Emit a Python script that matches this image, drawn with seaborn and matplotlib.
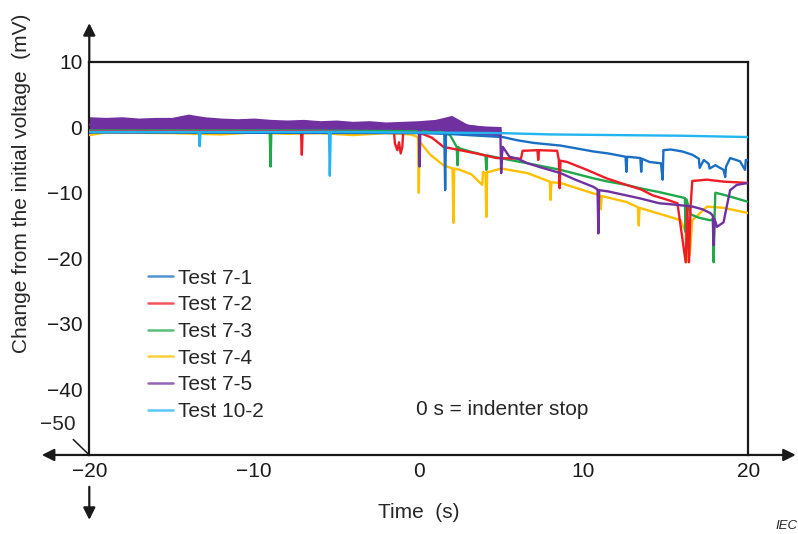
import numpy as np
import pandas as pd
import matplotlib
matplotlib.use("Agg")
import matplotlib.pyplot as plt
from matplotlib.lines import Line2D
import seaborn as sns

# ---- data (time in s, change in mV) ----
t_10_2 = [-20, -15, -13.35, -13.3, -13.25, -10, -5.45, -5.4, -5.35, 0, 5, 8, 12, 16, 20]
v_10_2 = [-0.7, -0.7, -0.7, -2.9, -0.7, -0.7, -0.7, -7.4, -0.7, -0.8, -0.9, -1.1, -1.2, -1.3, -1.5]

t_7_1 = [-20, 0, 1.55, 1.6, 1.65, 3, 5.1, 6, 7, 8.6, 9.5, 10.6, 11.5, 12.55, 12.6, 12.65,
         13.45, 13.5, 13.55, 14, 14.7, 14.8, 14.85, 15.3, 16, 16.6, 17.0, 17.05, 17.3,
         17.6, 17.65, 18, 18.5, 18.6, 18.65, 18.9, 19.5, 19.8, 19.85, 20]
v_7_1 = [-0.8, -0.9, -1.0, -9.6, -1.0, -1.2, -1.5, -2.0, -2.4, -2.8, -3.2, -3.7, -4.0, -4.5, -6.8, -4.5,
         -4.7, -6.8, -4.8, -5.3, -5.5, -8.0, -3.5, -3.4, -3.7, -4.2, -4.8, -6.2, -5.0,
         -5.6, -6.3, -5.8, -6.5, -7.6, -6.0, -4.7, -5.2, -6.5, -5.0, -5.0]

t_7_2 = [-20, -7.15, -7.1, -7.05, -1.5, -1.45, -1.3, -1.2, -1.1, -1.0, -0.95, 0, 0.8, 1.5, 2.5,
         3.5, 4.7, 6.2, 6.3, 7.2, 7.25, 7.3, 8.4, 8.5, 8.55, 8.6, 9.0, 10.2, 11.4, 12.6, 13.5,
         14.2, 15.0, 15.7, 16.2, 16.3, 16.4, 16.5, 16.6, 17.5, 18.5, 20]
v_7_2 = [-0.6, -0.6, -4.2, -0.6, -0.8, -2.5, -3.5, -2.3, -4.0, -3.0, -0.8, -0.8, -1.6, -3.0, -3.5,
         -4.0, -4.7, -4.8, -3.6, -3.5, -5.0, -3.5, -3.6, -5.0, -9.3, -5.1, -5.3, -6.5, -7.8, -8.8, -9.5,
         -10.4, -11.0, -11.6, -20.6, -12.0, -20.6, -12.0, -8.2, -8.0, -8.3, -8.5]

t_7_3 = [-20, -9.05, -9.0, -8.95, 0, 1.0, 1.3, 1.9, 2.3, 2.35, 2.4, 2.45, 3.1, 4.05, 4.1, 4.15,
         4.9, 6.6, 8.6, 10.6, 11.5, 12.6, 13.6, 14.6, 16.15, 16.2, 16.25, 16.5, 17.0, 17.7,
         17.85, 17.9, 17.95, 18.0, 18.5, 19.2, 20]
v_7_3 = [-0.5, -0.5, -6.0, -0.5, -0.6, -0.8, -0.7, -1.2, -3.0, -5.8, -3.0, -3.2, -3.7, -4.3, -6.5, -4.3,
         -4.7, -5.5, -6.5, -7.8, -8.3, -8.8, -9.4, -9.9, -10.8, -16.0, -11.0, -13.3, -13.8, -14.2,
         -14.0, -20.6, -14.0, -10.0, -10.3, -10.8, -11.4]

t_7_4 = [-20, -19, -15, -12, -10, -8, -6, -4, -2, -0.5, -0.05, 0.0, 0.05, 0.7, 1.5,
         2.05, 2.1, 2.15, 2.5, 3.2, 3.85, 3.9, 4.05, 4.1, 4.15, 4.3, 5.0, 6.6, 7.95, 8.0, 8.05,
         8.6, 10.6, 11.0, 11.05, 11.1, 12.6, 13.3, 13.35, 13.4, 14.2, 15.0, 15.9, 16.2, 16.25,
         16.3, 16.45, 16.6, 17.5, 18.5, 20]
v_7_4 = [-1.2, -0.8, -0.9, -1.1, -0.8, -1.0, -0.9, -1.2, -0.9, -1.1, -1.5, -10.0, -2.2, -4.2, -5.8,
         -6.3, -14.6, -6.3, -6.5, -7.2, -8.8, -6.8, -7.0, -13.7, -6.8, -6.8, -6.3, -7.0, -8.3, -11.1, -8.4,
         -8.5, -10.1, -10.4, -12.5, -10.5, -11.4, -12.2, -15.0, -12.3, -12.9, -13.5, -14.2, -16.0, -20.6,
         -16.5, -19.5, -14.2, -12.1, -12.3, -13.1]

t_7_5 = [-20, -14, 0, 0.05, 0.1, 2, 4.95, 5.0, 5.05, 5.1, 5.5, 6.0, 6.6, 7.5, 8.6, 9.5, 10.6, 10.85,
         10.9, 10.95, 11.5, 12.6, 13.5, 14.6, 15.5, 16.6, 17.2, 17.7, 17.85, 17.9, 17.95, 18.1,
         18.5, 18.7, 18.9, 19.3, 20]
v_7_5 = [0.4, 0.6, 0.2, -6.0, 0.2, 0.6, -0.5, -7.0, -4.2, -3.0, -4.5, -4.8, -5.5, -6.2, -7.0, -8.0, -9.1, -9.5,
         -16.2, -9.6, -9.8, -10.4, -10.9, -11.6, -11.8, -12.1, -12.5, -13.1, -13.5, -18.0, -14.0, -15.2,
         -14.5, -12.0, -9.6, -8.8, -8.5]

# noisy purple band before 5 s (upper / lower envelope)
t_band = list(range(-20, 6))
band_hi = [1.6, 1.5, 1.6, 1.4, 1.5, 1.5, 2.0, 1.6, 1.4, 1.3, 1.4, 1.2, 1.1, 1.2, 1.0, 1.1,
           0.9, 1.0, 0.8, 0.9, 1.0, 1.2, 1.8, 0.4, 0.2, 0.1]
band_lo = [-0.9, -0.8, -0.9, -0.8, -0.9, -0.8, -0.8, -0.9, -0.8, -0.9, -0.8, -0.9, -0.8, -0.9, -0.8, -0.9,
           -0.9, -0.8, -0.9, -0.9, -0.9, -0.8, -0.7, -1.1, -1.2, -1.3]

series = {
    "Test 7-1": (t_7_1, v_7_1, "#1a6fc4"),
    "Test 7-2": (t_7_2, v_7_2, "#ee1c25"),
    "Test 7-3": (t_7_3, v_7_3, "#21a84a"),
    "Test 7-4": (t_7_4, v_7_4, "#ffc000"),
    "Test 7-5": (t_7_5, v_7_5, "#7030a0"),
    "Test 10-2": (t_10_2, v_10_2, "#22b5f0"),
}
draw_order = ["Test 7-4", "Test 7-3", "Test 7-2", "Test 7-1", "Test 7-5", "Test 10-2"]

sns.set_style("white")
plt.rcParams["font.family"] = ["Liberation Sans", "DejaVu Sans"]

fig = plt.figure(figsize=(7.98, 5.34), dpi=100)
ax = fig.add_axes([0.1119, 0.148, 0.8258, 0.7365])

ax.fill_between(t_band, band_lo, band_hi, color="#7030a0", lw=0, zorder=2.5)
for name in draw_order:
    t, v, c = series[name]
    df = pd.DataFrame({"t": t, "v": v})
    sns.lineplot(data=df, x="t", y="v", ax=ax, color=c, lw=1.7, estimator=None, sort=False,
                 zorder=3 if name != "Test 10-2" else 4)

ax.set_xlim(-20, 20)
ax.set_ylim(-50, 10)
ax.set_xticks([-20, -10, 0, 10, 20])
ax.set_yticks([-50, -40, -30, -20, -10, 0, 10])
ax.set_yticklabels(["", "\u221240", "\u221230", "\u221220", "\u221210", "0", "10"])
ax.tick_params(direction="in", length=5, width=1.3, labelsize=15, colors="#1a1a1a", pad=5)
for s in ax.spines.values():
    s.set_color("#1a1a1a")
    s.set_linewidth(1.6)

ax.set_xlabel("Time  (s)", fontsize=15)
ax.set_ylabel("Change from the initial voltage  (mV)", fontsize=15)
ax.xaxis.set_label_coords(0.5, -0.122)
ax.yaxis.set_label_coords(-0.088, 0.69)

# axis arrows
arrow = dict(arrowstyle="-|>", lw=1.6, color="#1a1a1a", mutation_scale=18, shrinkA=0, shrinkB=0)
for start, end in [((0, 1), (0, 1.098)), ((0, -0.081), (0, -0.165)), ((0, 0), (-0.072, 0)), ((1, 0), (1.072, 0))]:
    ax.annotate("", xy=end, xytext=start, xycoords="axes fraction", textcoords="axes fraction",
                arrowprops=arrow, annotation_clip=False)

ax.annotate("\u221250", xy=(-20, -50), xytext=(-21.9, -45.4), fontsize=15, ha="center", va="center",
            arrowprops=dict(arrowstyle="-", lw=1.1, color="#1a1a1a", shrinkA=2, shrinkB=0),
            annotation_clip=False)

ax.text(5.05, -43.1, "0 s = indenter stop", fontsize=15, ha="center", va="center")

handles = [Line2D([], [], color=series[n][2], lw=1.8, alpha=0.75) for n in series]
ax.legend(handles, list(series.keys()), loc="upper left", bbox_to_anchor=(0.077, 0.495),
          frameon=False, fontsize=15, handlelength=1.2, handletextpad=0.2, labelspacing=0.37,
          borderaxespad=0)

fig.text(0.999, 0.003, "IEC", fontsize=9.5, style="italic", ha="right", va="bottom")

fig.savefig("out.png", dpi=100)
